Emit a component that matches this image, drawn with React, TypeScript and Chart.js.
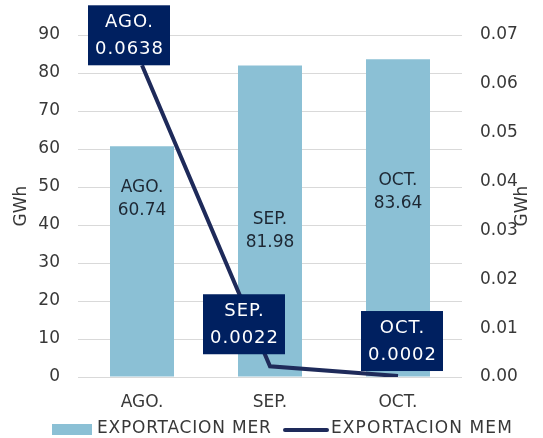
import React, { useEffect, useRef } from "react";
import { Chart, registerables } from "chart.js";

Chart.register(...registerables);

const categories = ["AGO.", "SEP.", "OCT."];
const merValues = [60.74, 81.98, 83.64];
const memValues = [0.0638, 0.0022, 0.0002];
const merLabel = "EXPORTACION MER";
const memLabel = "EXPORTACION MEM";
const axisTitle = "GWh";

const BAR_COLOR = "#8BC0D5";
const LINE_COLOR = "#1E2A5A";
const BOX_COLOR = "#002060";
const TICK_COLOR = "#383838";
const FONT = "DejaVu Sans";

const overlayPlugin = {
  id: "overlay",
  afterDatasetsDraw(chart: any) {
    const ctx = chart.ctx as CanvasRenderingContext2D;
    const barMeta = chart.getDatasetMeta(1);
    const lineMeta = chart.getDatasetMeta(0);
    // bar labels
    const barDy = [-62, 10, -26];
    ctx.save();
    ctx.font = `17px "${FONT}"`;
    ctx.fillStyle = "#1d2733";
    ctx.textAlign = "center";
    ctx.textBaseline = "middle";
    barMeta.data.forEach((el: any, i: number) => {
      const cy = (el.y + el.base) / 2 + barDy[i];
      ctx.fillText(categories[i], el.x, cy - 11.5);
      ctx.fillText(merValues[i].toFixed(2), el.x, cy + 11.5);
    });
    ctx.restore();

    // line label boxes
    const boxOff = [
      [-13, -30],
      [-26, -42],
      [4, -35],
    ];
    const bw = 82;
    const bh = 60;
    ctx.save();
    lineMeta.data.forEach((pt: any, i: number) => {
      const cx = pt.x + boxOff[i][0];
      const cy = pt.y + boxOff[i][1];
      ctx.fillStyle = BOX_COLOR;
      ctx.fillRect(cx - bw / 2, cy - bh / 2, bw, bh);
      ctx.fillStyle = "#ffffff";
      ctx.font = `18px "${FONT}"`;
      (ctx as any).letterSpacing = "1px";
      ctx.textAlign = "center";
      ctx.textBaseline = "middle";
      ctx.fillText(categories[i], cx + 0.5, cy - 13);
      ctx.fillText(memValues[i].toFixed(4), cx + 0.5, cy + 14);
      (ctx as any).letterSpacing = "0px";
    });
    ctx.restore();
  },
  afterDraw(chart: any) {
    const ctx = chart.ctx as CanvasRenderingContext2D;
    const area = chart.chartArea;
    const midY = (area.top + area.bottom) / 2;
    ctx.save();
    ctx.font = `17px "${FONT}"`;
    ctx.fillStyle = TICK_COLOR;
    ctx.textAlign = "center";
    ctx.textBaseline = "middle";
    [22, 523].forEach((x) => {
      ctx.save();
      ctx.translate(x, midY);
      ctx.rotate(-Math.PI / 2);
      ctx.fillText(axisTitle, 0, 0);
      ctx.restore();
    });

    // legend
    const ly = 429;
    ctx.fillStyle = BAR_COLOR;
    ctx.fillRect(52, ly - 5, 40, 11);
    ctx.fillStyle = TICK_COLOR;
    ctx.textAlign = "left";
    (ctx as any).letterSpacing = "0.8px";
    ctx.fillText(merLabel, 97, ly);
    ctx.strokeStyle = LINE_COLOR;
    ctx.lineWidth = 4;
    ctx.lineCap = "round";
    ctx.beginPath();
    ctx.moveTo(285, ly + 1);
    ctx.lineTo(327, ly + 1);
    ctx.stroke();
    (ctx as any).letterSpacing = "1.1px";
    ctx.fillText(memLabel, 331, ly);
    (ctx as any).letterSpacing = "0px";
    ctx.restore();
  },
};

export default function App() {
  const ref = useRef<HTMLCanvasElement>(null);
  useEffect(() => {
    if (!ref.current) return;
    const chart = new Chart(ref.current, {
      type: "bar",
      data: {
        labels: categories,
        datasets: [
          {
            type: "line",
            label: memLabel,
            data: memValues,
            yAxisID: "y1",
            borderColor: LINE_COLOR,
            backgroundColor: LINE_COLOR,
            borderWidth: 4,
            pointRadius: 0,
            tension: 0,
            order: 0,
          } as any,
          {
            type: "bar",
            label: merLabel,
            data: merValues,
            yAxisID: "y",
            backgroundColor: BAR_COLOR,
            barPercentage: 0.5,
            categoryPercentage: 1,
            order: 1,
          },
        ],
      },
      options: {
        responsive: false,
        animation: false,
        layout: { padding: { top: 35, left: 0, right: 0, bottom: 0 } },
        font: { family: FONT, size: 17 },
        plugins: {
          legend: { display: false },
          tooltip: { enabled: false },
        },
        scales: {
          x: {
            grid: { display: false, drawTicks: false },
            border: { display: false },
            ticks: {
              color: TICK_COLOR,
              font: { family: FONT, size: 17 },
              padding: 15,
            },
            afterFit(scale: any) {
              scale.height = 61;
            },
          },
          y: {
            position: "left",
            min: 0,
            max: 90,
            grid: { color: "#d9d9d9", drawTicks: false, lineWidth: 1 },
            border: { display: false },
            ticks: {
              stepSize: 10,
              color: TICK_COLOR,
              font: { family: FONT, size: 17 },
              padding: 18,
            },
            afterFit(scale: any) {
              scale.width = 78;
            },
          },
          y1: {
            position: "right",
            min: 0,
            max: 0.07,
            grid: { display: false, drawTicks: false },
            border: { display: false },
            ticks: {
              stepSize: 0.01,
              color: TICK_COLOR,
              font: { family: FONT, size: 17 },
              padding: 18,
              callback: (v: any) => Number(v).toFixed(2),
            },
            afterFit(scale: any) {
              scale.width = 81;
            },
          },
        },
      } as any,
      plugins: [overlayPlugin],
    });
    return () => chart.destroy();
  }, []);
  return (
    <div style={{ position: "absolute", left: 0, top: 0, width: 543, height: 438, background: "#fff" }}>
      <canvas ref={ref} width={543} height={438} style={{ display: "block" }} />
    </div>
  );
}
